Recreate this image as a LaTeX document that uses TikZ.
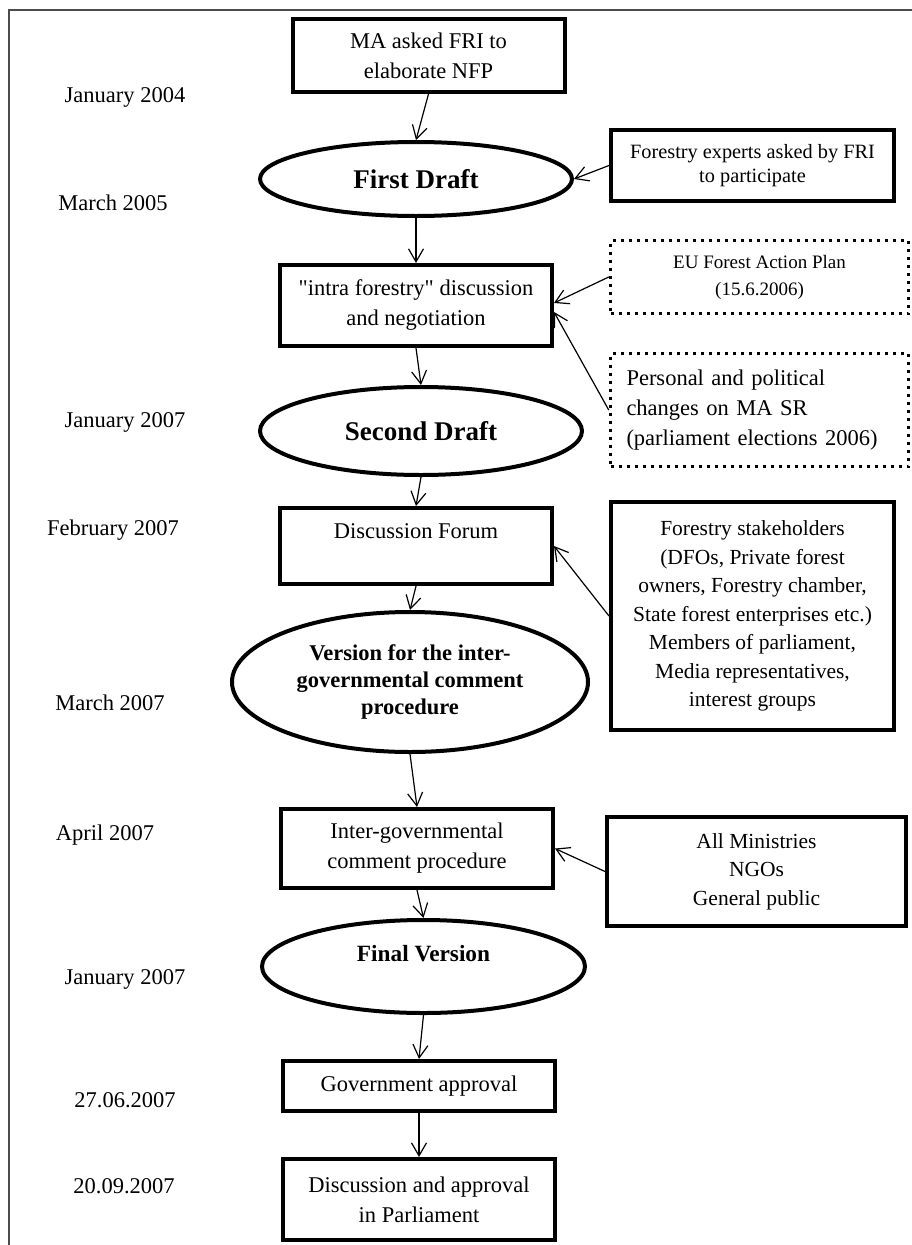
\documentclass[tikz,border=0pt]{standalone}
\usepackage{fontspec}
\setmainfont{Liberation Serif}
\usetikzlibrary{positioning, shapes.geometric, arrows.meta}

\begin{document}
\begin{tikzpicture}[x=1pt, y=-1pt,
  stage box/.style={rectangle,draw,line width=4pt,minimum width=272pt,inner sep=4pt,
    align=center,font=\fontsize{22.5}{30}\selectfont},
  draft node/.style={ellipse,draw,line width=4pt,inner sep=0pt,align=center,
    font=\fontsize{27}{32}\selectfont\bfseries},
  side box/.style={rectangle,draw,line width=4pt,inner sep=4pt,align=center,
    font=\fontsize{21.5}{28.5}\selectfont},
  dotted box/.style={rectangle,draw,line width=3.5pt,dash pattern=on 3pt off 5pt,
    inner sep=4pt,font=\fontsize{22.5}{30}\selectfont},
  date node/.style={font=\fontsize{22.5}{30}\selectfont},
  flow/.style={line width=1.2pt,-{Straight Barb[length=13pt,width=15pt]}}]

\useasboundingbox (0,0) rectangle (912,1245);
\draw[line width=1.5pt, black!70] (9,1245) -- (9,10) -- (912,10);

% main column
\node[stage box, minimum height=73pt] (start) at (428.5,55.5) {MA asked FRI to\\elaborate NFP};
\node[draft node, minimum width=312pt, minimum height=74pt] (draft1) at (416,179) {First Draft};
\node[stage box, minimum height=81pt] (intra) at (416,305.5)
  {\textquotedbl intra forestry\textquotedbl{} discussion\\and negotiation};
\node[draft node, minimum width=322pt, minimum height=88pt] (draft2) at (421,431) {Second Draft};
\node[stage box, minimum height=76pt] (forum) at (416,546) {Discussion Forum\\\mbox{}};
\node[draft node, minimum width=356pt, minimum height=140pt,
  font=\fontsize{22.5}{27}\selectfont\bfseries] (version) at (410,682)
  {Version for the inter-\\governmental comment\\procedure};
\node[stage box, minimum height=79pt] (inter) at (417,848.5) {Inter-governmental\\comment procedure};
\node[draft node, minimum width=323pt, minimum height=93pt,
  font=\fontsize{23.3}{26}\selectfont\bfseries] (final) at (423.5,966.5) {Final Version\\\mbox{}};
\node[stage box, minimum height=50pt] (gov) at (419,1086) {Government approval};
\node[stage box, minimum height=81pt] (parl) at (419,1199.5) {Discussion and approval\\in Parliament};

% inputs on the right
\node[side box, minimum width=283pt, minimum height=71pt,
  font=\fontsize{20.3}{23.5}\selectfont] (experts) at (752.5,165.5)
  {Forestry experts asked by FRI\\to participate};
\node[dotted box, minimum width=298pt, minimum height=73pt, align=center,
  font=\fontsize{19}{27}\selectfont] (eu) at (759.5,277)
  {EU Forest Action Plan\\(15.6.2006)};
\node[dotted box, minimum height=113pt, align=left, text width=266pt, inner xsep=16pt] (personal) at (759.5,410)
  {Personal and political\\changes on MA SR\\(parliament elections 2006)};
\node[side box, minimum width=283pt, minimum height=228pt] (stake) at (752.5,616)
  {Forestry stakeholders\\(DFOs, Private forest\\owners, Forestry chamber,\\State forest enterprises etc.)\\Members of parliament,\\Media representatives,\\interest groups};
\node[side box, minimum width=299pt, minimum height=109pt] (minist) at (756.5,871.5)
  {All Ministries\\NGOs\\General public};

% dates
\node[date node] (jan04) at (125,97) {January 2004};
\node[date node] (mar05) at (113,203) {March 2005};
\node[date node] (jan07a) at (125,422) {January 2007};
\node[date node] (feb07) at (113,530) {February 2007};
\node[date node] (mar07) at (110,703) {March 2007};
\node[date node] (apr07) at (105,835) {April 2007};
\node[date node] (jan07b) at (125,979) {January 2007};
\node[date node] (jun07) at (125,1100) {27.06.2007};
\node[date node] (sep07) at (124,1186) {20.09.2007};

\path[flow]
(start.south) edge (draft1.north)
(draft1.south) edge (intra.north)
(intra.south) edge (draft2.north)
(draft2.south) edge (forum.north)
(forum.south) edge (version.north)
(version.south) edge (inter.north)
(inter.south) edge (final.north)
(final.south) edge (gov.north)
(gov.south) edge (parl.north)
(experts.west) edge (draft1.east)
(eu.west) edge ([yshift=2.5pt]intra.east)
(personal.west) edge ([yshift=-6.5pt]intra.east)
(stake.west) edge (forum.east)
(minist.west) edge (inter.east)
;
\end{tikzpicture}
\end{document}
